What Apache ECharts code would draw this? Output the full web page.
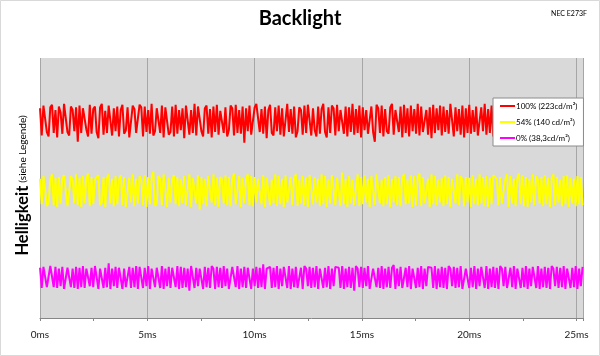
<!DOCTYPE html>
<html>
<head>
<meta charset="utf-8">
<script src="https://cdn.jsdelivr.net/npm/echarts@6/dist/echarts.min.js"></script>
<style>
html,body{margin:0;padding:0;background:#fff;}
#chart{width:600px;height:356px;}
</style>
</head>
<body>
<div id="chart"></div>
<script>
// sampling step of the measurement (ms)
const sampleStepMs = 0.08;
const xTicks = ['0ms','5ms','10ms','15ms','20ms','25ms'];
const seriesNames = ['100% (223cd/m²)', '54% (140 cd/m²)', '0% (38,3cd/m²)'];

const red = [
238,207,241,240,211,206,239,242,210,236,
205,240,233,209,243,242,211,207,240,236,
212,239,200,241,210,238,238,214,206,242,
209,237,240,211,204,239,243,208,235,210,
241,241,207,238,212,240,206,236,242,209,
213,239,205,205,241,237,210,208,242,239,
206,240,211,236,209,243,207,212,238,238,
210,241,205,239,237,208,211,240,206,242,
209,236,213,238,204,241,239,208,236,210,
243,207,240,240,212,206,238,241,209,237,
205,240,211,242,208,235,235,210,239,206,
213,241,238,207,242,210,236,209,240,199,
238,212,241,208,206,239,243,243,211,237,
209,240,204,236,242,210,207,239,212,241,
208,238,206,206,243,211,237,209,240,205,
212,239,236,208,241,210,242,242,207,238,
213,206,240,209,237,243,211,205,239,210,
241,238,207,242,212,236,236,209,240,206,
239,211,243,208,237,210,241,205,239,213,
236,209,209,240,211,200,242,238,210,241,
206,237,212,209,239,243,208,236,236,211,
240,205,242,210,238,206,241,212,237,209,
243,207,240,211,211,236,208,239,204,242,
210,238,213,241,207,240,211,236,209,243,
243,206,239,212,237,208,241,205,238,210,
242,209,236,211,240,207,207,239,212,243,
208,237,210,241,206,238,211,242,209,240,
240,207,236,210,239,205,243,212,238,209,
241,206,237,211,211,240,208,242,210,236,
213,239,207,241,209,238,238,205,240,211,
237,208,242,210,239,206,241,212,236,209,
240,207,238,211,242,209,240];

const yellow = [
158,129,161,160,127,131,157,163,128,159,
126,160,130,158,162,162,127,129,161,157,
130,163,128,159,126,161,130,158,164,127,
160,129,157,157,162,128,131,160,126,159,
163,130,158,127,161,129,157,162,128,160,
126,126,159,131,163,127,158,130,161,157,
128,162,126,160,129,159,166,127,130,161,
158,128,163,163,126,159,131,157,162,129,
160,127,158,130,161,128,128,163,126,159,
157,130,162,123,160,129,158,127,161,161,
131,163,128,159,126,160,157,130,162,128,
160,127,158,164,129,129,161,126,159,130,
157,163,128,161,127,160,131,158,158,129,
162,126,159,160,128,157,130,163,127,161,
129,158,126,162,131,131,160,128,159,163,
127,157,130,161,128,159,126,162,162,129,
160,131,158,127,163,129,161,126,157,130,
162,162,128,159,160,127,165,129,158,126,
161,130,157,128,128,163,127,160,129,162,
131,158,126,161,159,128,163,163,130,157,
127,160,129,162,126,158,131,161,128,160,
127,159,163,129,157,130,162,126,161,128,
159,164,127,160,130,130,158,126,163,129,
161,128,157,131,159,127,162,129,160,126,
158,158,130,163,128,161,157,127,160,131,
159,126,162,129,158,128,163,130,160,127,
161,126,159,129,162,162,158,128,160,130,
128,157,163,126,161,130,158,127,159,164,
129,162,127,160,126,158,131,163,128,161,
157,130,160,127,162,129,159,126,158,163,
128,160,131,157,127,161,129,162,126,159,
130,158,127,161,129,160,128];

const magenta = [
57,34,58,56,35,33,59,57,35,58,
34,56,36,58,33,33,57,59,35,56,
34,58,33,57,35,59,34,56,58,36,
57,35,59,59,33,56,58,34,57,35,
62,33,56,36,58,34,57,59,33,56,
35,35,58,34,57,35,59,33,58,56,
34,57,36,59,33,56,58,35,57,57,
34,59,33,56,36,58,34,57,56,35,
59,33,58,34,57,35,56,31,59,58,
34,57,36,56,56,33,58,35,57,34,
59,56,33,58,35,57,34,59,36,56,
33,33,58,57,35,59,33,56,35,58,
34,57,59,33,56,36,58,34,57,35,
61,33,56,58,58,34,57,35,59,33,
56,36,58,57,34,59,33,56,35,58,
34,34,57,33,59,56,36,58,34,57,
35,59,33,56,58,34,57,35,59,33,
56,36,58,58,57,34,59,33,56,35,
58,34,57,31,59,56,35,58,34,57,
36,59,33,33,56,58,35,57,34,59,
33,56,35,58,34,57,60,33,56,36,
58,34,34,57,35,59,33,56,58,34,
57,35,59,33,56,36,58,57,57,34,
59,33,56,35,58,34,57,33,59,56,
36,58,34,57,35,59,33,33,56,58,
34,57,35,59,33,56,36,58,57,34,
59,33,56,35,58,34,57,33,59,56,
36,58,34,34,57,35,59,33,56,58,
34,57,35,59,33,56,36,58,57,34,
59,33,56,35,58,34,57,33,59,56,
36,58,34,57,35,59,33,56,58,34,
57,35,59,33,56,36,58];

const colors = ['#ff0000', '#ffff00', '#ff00ff'];
const FONT = 'Lato, "Open Sans", sans-serif';

function toPairs(arr) {
  return arr.map((v, i) => [+(i * sampleStepMs).toFixed(2), v]);
}

const chart = echarts.init(document.getElementById('chart'));
chart.setOption({
  animation: false,
  backgroundColor: '#ffffff',
  textStyle: { fontFamily: FONT },
  title: [
    { text: 'Backlight', left: 'center', top: 4,
      textStyle: { fontFamily: FONT, fontSize: 20, fontWeight: 'bold', color: '#000' } },
    { text: 'NEC E273F', right: 8, top: 5,
      textStyle: { fontFamily: FONT, fontSize: 7, fontWeight: 'normal', color: '#000' } }
  ],
  graphic: [{
    type: 'rect', silent: true, z: 100,
    shape: { x: 0.5, y: 0.5, width: 599, height: 355 },
    style: { fill: null, stroke: '#d9d9d9', lineWidth: 1 }
  }],
  legend: {
    orient: 'vertical',
    left: 493, top: 98,
    width: 84,
    padding: [4, 6, 4, 7],
    itemGap: 8,
    itemWidth: 15, itemHeight: 2,
    backgroundColor: '#ffffff',
    borderColor: '#8c8c8c', borderWidth: 1,
    textStyle: { fontFamily: FONT, fontSize: 8, color: '#000', padding: [0, 0, 0, -4] },
    data: seriesNames.map(n => ({ name: n, icon: 'rect' }))
  },
  grid: {
    left: 40, right: 17, top: 58, bottom: 38,
    show: true, backgroundColor: '#d9d9d9', borderWidth: 0
  },
  xAxis: {
    type: 'value', min: 0, max: 25.3, interval: 5,
    axisLine: { show: true, lineStyle: { color: '#868686', width: 1 } },
    axisTick: { show: true, length: 3, lineStyle: { color: '#868686' } },
    minorTick: { show: true, splitNumber: 2, length: 3, lineStyle: { color: '#868686' } },
    splitLine: { show: true, lineStyle: { color: '#a6a6a6', width: 1 } },
    axisLabel: {
      margin: 12, fontSize: 10, color: '#1a1a1a', fontFamily: FONT,
      showMaxLabel: false,
      formatter: v => xTicks[Math.round(v / 5)] || ''
    }
  },
  yAxis: {
    type: 'value', min: 0, max: 295,
    axisLine: { show: false }, axisTick: { show: false },
    axisLabel: { show: false }, splitLine: { show: false },
    name: '{a|Helligkeit} {b|(siehe Legende)}',
    nameLocation: 'middle', nameRotate: 90, nameGap: 9,
    nameTextStyle: {
      padding: [0, 0, 0, 5],
      rich: {
        a: { fontFamily: FONT, fontSize: 16.5, fontWeight: 'bold', color: '#000' },
        b: { fontFamily: FONT, fontSize: 10, color: '#000' }
      }
    }
  },
  series: [red, yellow, magenta].map((arr, k) => ({
    name: seriesNames[k],
    type: 'line',
    data: toPairs(arr),
    showSymbol: false,
    symbol: 'none',
    lineStyle: { color: colors[k], width: 2 },
    itemStyle: { color: colors[k] }
  }))
});
</script>
</body>
</html>
